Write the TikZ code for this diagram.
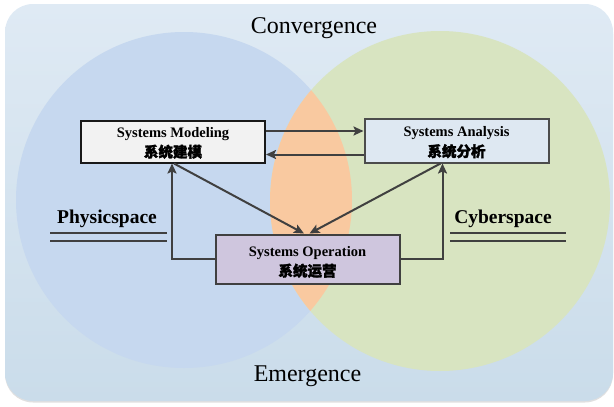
\documentclass[tikz,border=0pt]{standalone}
\usepackage{fontspec}
\setmainfont{Liberation Serif}
\newfontfamily\cjk[FakeBold=2]{Noto Sans CJK SC}
\usetikzlibrary{arrows.meta,positioning}

\definecolor{bgtop}{HTML}{DFEAF4}
\definecolor{bgbot}{HTML}{CADCEA}
\definecolor{physblue}{HTML}{C6D8EF}
\definecolor{cybgreen}{HTML}{D8E4C1}
\definecolor{overlap}{HTML}{F9C9A0}
\definecolor{linegray}{HTML}{404040}
\definecolor{modfill}{HTML}{F2F2F2}
\definecolor{anafill}{HTML}{DEE8F2}
\definecolor{opfill}{HTML}{CFC6DE}

\tikzset{
  sysbox/.style={draw, line width=2pt, minimum width=184pt, inner sep=0pt},
  boxtext/.style={align=center, inner sep=0pt,
    font=\fontsize{14.5}{20}\selectfont\bfseries},
  arr/.style={draw=linegray, line width=2pt,
    -{Stealth[length=10pt,width=9pt,inset=2pt]}},
  spacelabel/.style={font=\fontsize{19.5}{22}\selectfont\bfseries},
  bigword/.style={font=\fontsize{24}{26}\selectfont},
  rule/.style={draw=linegray, line width=2pt}
}

\begin{document}
\begin{tikzpicture}[x=1pt,y=-1pt]
  \useasboundingbox (0,0) rectangle (614,407);

  % background panel with a faint shadow
  \fill[black!12, rounded corners=28pt] (5,6) rectangle (613,402.5);
  \shade[top color=bgtop, bottom color=bgbot, rounded corners=28pt]
    (5,4) rectangle (613,401);

  % the two spaces and their overlap
  \fill[physblue] (184,200) circle (168);
  \fill[cybgreen] (440,201) circle (170);
  \begin{scope}
    \clip (184,200) circle (168);
    \fill[overlap] (440,201) circle (170);
  \end{scope}

  % titles
  \node[bigword] (conv) at (314,28) {Convergence};
  \node[bigword] (emer) at (307.5,376) {Emergence};

  % space labels with double rules
  \node[spacelabel] (phys) at (107,219) {Physicspace};
  \node[spacelabel] (cyber) at (503,219) {Cyberspace};
  \draw[rule] (50,233) -- (167,233);
  \draw[rule] (50,241) -- (167,241);
  \draw[rule] (450,233) -- (566,233);
  \draw[rule] (450,241) -- (566,241);

  % activity boxes
  \node[sysbox, draw=black!90, fill=modfill, minimum height=42pt]
    (model) at (173,141.5) {};
  \node[boxtext] (modeltext) at (173,143) {Systems Modeling\\{\cjk 系统建模}};
  \node[sysbox, draw=black!70, fill=anafill, minimum height=44pt]
    (analysis) at (456.5,140.5) {};
  \node[boxtext] (analysistext) at (456.5,142.5) {Systems Analysis\\{\cjk 系统分析}};
  \node[sysbox, draw=black!75, fill=opfill, minimum height=49pt]
    (oper) at (307.5,259) {};
  \node[boxtext] (opertext) at (307.5,262) {Systems Operation\\{\cjk 系统运营}};

  % modeling <-> analysis
  \draw[arr] ([yshift=10.5pt]model.east) -- ([yshift=10.5pt]model.east -| analysis.west);
  \draw[arr] ([yshift=-14pt]analysis.west) -- ([yshift=-14pt]analysis.west -| model.east);

  % feedback from operation
  \draw[arr] (oper.west) -| ([xshift=-1pt]model.south);
  \draw[arr] (oper.east) -| ([xshift=-14pt]analysis.south);

  % modeling and analysis driving operation
  \draw[arr] ([xshift=1pt]model.south) -- ([xshift=-3.5pt]oper.north);
  \draw[arr] ([xshift=-16pt]analysis.south) -- ([xshift=2pt]oper.north);
\end{tikzpicture}
\end{document}
